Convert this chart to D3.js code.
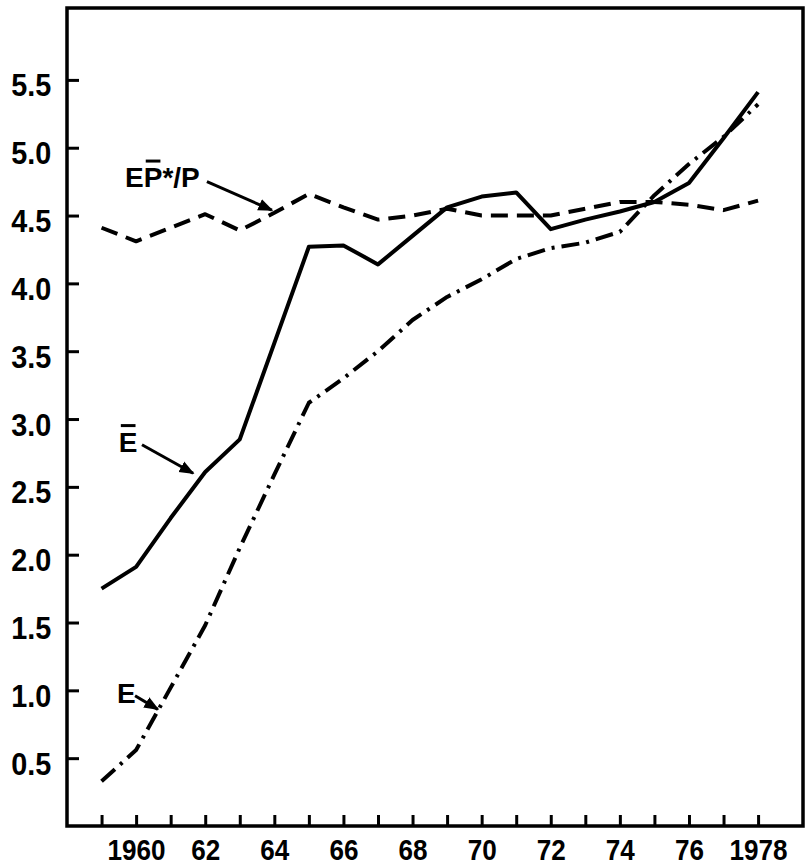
<!DOCTYPE html>
<html>
<head>
<meta charset="utf-8">
<script src="https://cdn.jsdelivr.net/npm/d3@7"></script>
<style>
    body { margin: 0; background: #fff; }
    .tick text { font-family: "Liberation Sans", Arial, sans-serif;
                 font-weight: bold; fill: #000; }
    .note { font-family: "Liberation Sans", Arial, sans-serif; font-weight: bold;
            font-size: 28px; fill: #000; }
</style>
</head>
<body>
<script>
// years and the three series
var years = d3.range(1959, 1979);
var eBar = [1.75, 1.91, 2.27, 2.61, 2.85, 3.56, 4.27, 4.28, 4.14, 4.35,
            4.56, 4.64, 4.67, 4.40, 4.47, 4.53, 4.60, 4.74, 5.07, 5.41];
var ePstar = [4.41, 4.31, 4.41, 4.51, 4.39, 4.52, 4.66, 4.56, 4.47, 4.50,
              4.55, 4.50, 4.50, 4.50, 4.55, 4.60, 4.60, 4.58, 4.54, 4.61];
var e = [0.33, 0.56, 1.02, 1.48, 2.05, 2.59, 3.12, 3.30, 3.50, 3.73,
         3.90, 4.03, 4.18, 4.26, 4.30, 4.38, 4.65, 4.88, 5.08, 5.32];
var yTicks = [0.5, 1.0, 1.5, 2.0, 2.5, 3.0, 3.5, 4.0, 4.5, 5.0, 5.5];
var xLabels = {1960: "1960", 1962: "62", 1964: "64", 1966: "66", 1968: "68",
               1970: "70", 1972: "72", 1974: "74", 1976: "76", 1978: "1978"};

var margin = {top: 8, right: 2, bottom: 42, left: 67},
    width = 805 - margin.left - margin.right,
    height = 868 - margin.top - margin.bottom;

var x = d3.scaleLinear().domain([1958, 1979.3]).range([0, width]);
var y = d3.scaleLinear().domain([0, 6.03]).range([height, 0]);

var svg = d3.select("body").append("svg")
    .attr("width", width + margin.left + margin.right)
    .attr("height", height + margin.top + margin.bottom)
    .append("g")
    .attr("transform", "translate(" + margin.left + "," + margin.top + ")");

svg.append("defs").append("marker")
    .attr("id", "head")
    .attr("viewBox", "0 0 10 10")
    .attr("refX", 9).attr("refY", 5)
    .attr("markerWidth", 5).attr("markerHeight", 5)
    .attr("markerUnits", "strokeWidth")
    .attr("orient", "auto")
    .append("path").attr("d", "M0,1 L10,5 L0,9 Z").attr("fill", "#000");

// axes with inward ticks, labels squeezed to look condensed
var yAxis = svg.append("g")
    .call(d3.axisLeft(y).tickValues(yTicks).tickSizeInner(-12).tickSizeOuter(0)
        .tickPadding(15).tickFormat(d3.format(".1f")));
yAxis.select(".domain").remove();
yAxis.selectAll(".tick line").attr("stroke-width", 3);
yAxis.selectAll(".tick text")
    .attr("font-size", 32)
    .attr("x", -17.5)
    .attr("dy", "0.5em")
    .attr("transform", "scale(0.9,1)");

var xAxis = svg.append("g")
    .attr("transform", "translate(0," + height + ")")
    .call(d3.axisBottom(x).tickValues(years).tickSizeInner(-11).tickSizeOuter(0)
        .tickPadding(13).tickFormat(function(d) { return xLabels[d] || ""; }));
xAxis.select(".domain").remove();
xAxis.selectAll(".tick line").attr("stroke-width", 3);
xAxis.selectAll(".tick text")
    .attr("font-size", 29)
    .attr("transform", "scale(0.9,1)");

// frame
svg.append("rect")
    .attr("width", width).attr("height", height)
    .attr("fill", "none").attr("stroke", "#000").attr("stroke-width", 3.5);

var line = d3.line()
    .x(function(d) { return x(d[0]); })
    .y(function(d) { return y(d[1]); });

function pairs(vals) {
    return years.map(function(yr, i) { return [yr, vals[i]]; });
}

var series = [
    {vals: eBar, dash: null},
    {vals: ePstar, dash: "17,9"},
    {vals: e, dash: "18,7,3,7"}
];

svg.selectAll("path.series")
    .data(series)
    .enter().append("path")
    .attr("class", "series")
    .attr("d", function(d) { return line(pairs(d.vals)); })
    .attr("fill", "none")
    .attr("stroke", "#000")
    .attr("stroke-width", 4)
    .attr("stroke-linejoin", "round")
    .attr("stroke-dasharray", function(d) { return d.dash; });

// labels with arrows, placed in data units; bar = index of char with overbar
var notes = [
    {parts: ["E", "P", "*/P"], bar: 1, at: [1959.68, 4.71], from: [1962.05, 4.75], to: [1963.93, 4.54]},
    {parts: ["E"], bar: 0, at: [1959.5, 2.76], from: [1960.17, 2.81], to: [1961.65, 2.60]},
    {parts: ["E"], bar: -1, at: [1959.45, 0.91], from: [1959.97, 0.96], to: [1960.63, 0.86]}
];

notes.forEach(function(n) {
    var t = svg.append("text")
        .attr("class", "note")
        .attr("x", x(n.at[0]))
        .attr("y", y(n.at[1]));
    n.parts.forEach(function(p) { t.append("tspan").text(p); });
    if (n.bar >= 0) {
        var node = t.node();
        var x0 = node.getStartPositionOfChar(n.bar).x,
            x1 = node.getEndPositionOfChar(n.bar).x;
        svg.append("line")
            .attr("x1", x0 + 2).attr("x2", x1 - 2)
            .attr("y1", y(n.at[1]) - 26).attr("y2", y(n.at[1]) - 26)
            .attr("stroke", "#000").attr("stroke-width", 3);
    }
    svg.append("line")
        .attr("x1", x(n.from[0])).attr("y1", y(n.from[1]))
        .attr("x2", x(n.to[0])).attr("y2", y(n.to[1]))
        .attr("stroke", "#000").attr("stroke-width", 3)
        .attr("marker-end", "url(#head)");
});
</script>
</body>
</html>
